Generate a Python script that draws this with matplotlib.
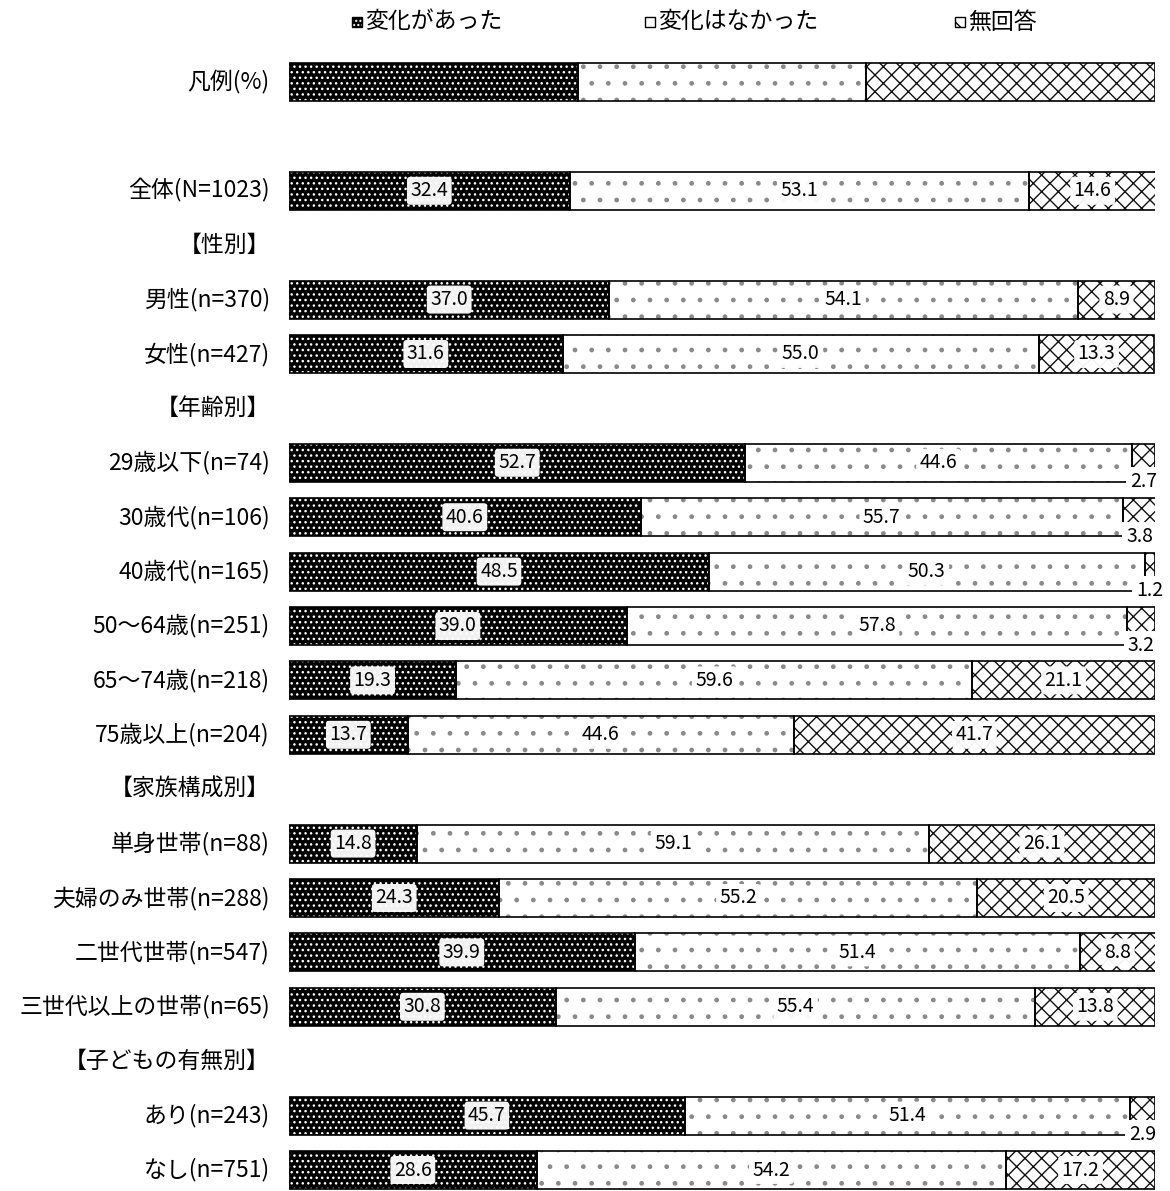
import matplotlib
matplotlib.use("Agg")
import matplotlib.pyplot as plt
from matplotlib.patches import Rectangle

plt.rcParams['font.family'] = ['Noto Sans CJK JP', 'DejaVu Sans']
plt.rcParams['hatch.linewidth'] = 1.0

# data
labels = ["全体(N=1023)", "男性(n=370)", "女性(n=427)",
          "29歳以下(n=74)", "30歳代(n=106)", "40歳代(n=165)", "50～64歳(n=251)",
          "65～74歳(n=218)", "75歳以上(n=204)",
          "単身世帯(n=88)", "夫婦のみ世帯(n=288)", "二世代世帯(n=547)", "三世代以上の世帯(n=65)",
          "あり(n=243)", "なし(n=751)"]
changed = [32.4, 37.0, 31.6, 52.7, 40.6, 48.5, 39.0, 19.3, 13.7, 14.8, 24.3, 39.9, 30.8, 45.7, 28.6]
unchanged = [53.1, 54.1, 55.0, 44.6, 55.7, 50.3, 57.8, 59.6, 44.6, 59.1, 55.2, 51.4, 55.4, 51.4, 54.2]
no_answer = [14.6, 8.9, 13.3, 2.7, 3.8, 1.2, 3.2, 21.1, 41.7, 26.1, 20.5, 8.8, 13.8, 2.9, 17.2]
rows = [2, 4, 5, 7, 8, 9, 10, 11, 12, 14, 15, 16, 17, 19, 20]

headers = ["【性別】", "【年齢別】", "【家族構成別】", "【子どもの有無別】"]
header_rows = [3, 6, 13, 18]

series_names = ["変化があった", "変化はなかった", "無回答"]

fig = plt.figure(figsize=(11.7, 11.91), dpi=100)
ax = fig.add_axes([289/1170, 0, 866/1170, 1])
ax.set_xlim(0, 100)
ax.set_ylim(20.386, -1.507)
ax.axis('off')

h = 0.70
lab_fs = 16.5
num_fs = 14


def draw_bar(y, a, b, c):
    ax.barh(y, a, left=0, height=h, color='black', edgecolor='white', hatch='...', linewidth=0)
    ax.barh(y, b, left=a, height=h, color='white', edgecolor='#8a8a8a', hatch='.', linewidth=0)
    ax.barh(y, c, left=a + b, height=h, color='white', edgecolor='#111111', hatch='xx', linewidth=0)
    for left, w in [(0, a), (a, b), (a + b, c)]:
        ax.barh(y, w, left=left, height=h, fill=False, edgecolor='black', linewidth=1.2)


# legend bar
draw_bar(0, 100 / 3, 100 / 3, 100 / 3)
ax.text(-2.2, 0, "凡例(%)", ha='right', va='center', fontsize=lab_fs)

box = dict(boxstyle='round,pad=0.18', facecolor='white', edgecolor='none', alpha=0.95)

for y, lab, a, b, c in zip(rows, labels, changed, unchanged, no_answer):
    draw_bar(y, a, b, c)
    ax.text(-2.2, y, lab, ha='right', va='center', fontsize=lab_fs)
    ax.text(a / 2, y, f"{a:.1f}", ha='center', va='center', fontsize=num_fs, bbox=box)
    ax.text(a + b / 2, y, f"{b:.1f}", ha='center', va='center', fontsize=num_fs, bbox=box)
    if c < 5:
        ax.text(a + b + c / 2, y + h / 2, f"{c:.1f}", ha='center', va='center', fontsize=num_fs,
                bbox=dict(boxstyle='square,pad=0.2', facecolor='white', edgecolor='none'))
    else:
        ax.text(a + b + c / 2, y, f"{c:.1f}", ha='center', va='center', fontsize=num_fs, bbox=box)

for y, lab in zip(header_rows, headers):
    ax.text(-2.2, y, lab, ha='right', va='center', fontsize=lab_fs)

# legend at top
leg_x = [352, 645, 955]
styles = [dict(facecolor='black', edgecolor='white', hatch='....'),
          dict(facecolor='white', edgecolor='black', hatch=None),
          dict(facecolor='white', edgecolor='black', hatch='\\\\')]
for x, name, st in zip(leg_x, series_names, styles):
    r = Rectangle((x / 1170, 1 - 27 / 1191), 10 / 1170, 10 / 1191, transform=fig.transFigure,
                  linewidth=0, **st)
    fig.patches.append(r)
    fig.patches.append(Rectangle((x / 1170, 1 - 27 / 1191), 10 / 1170, 10 / 1191,
                                 transform=fig.transFigure, fill=False, edgecolor='black', linewidth=1))
    fig.text((x + 13) / 1170, 1 - 22 / 1191, name, ha='left', va='center', fontsize=lab_fs)

fig.savefig("out.png", dpi=100, facecolor='white')
